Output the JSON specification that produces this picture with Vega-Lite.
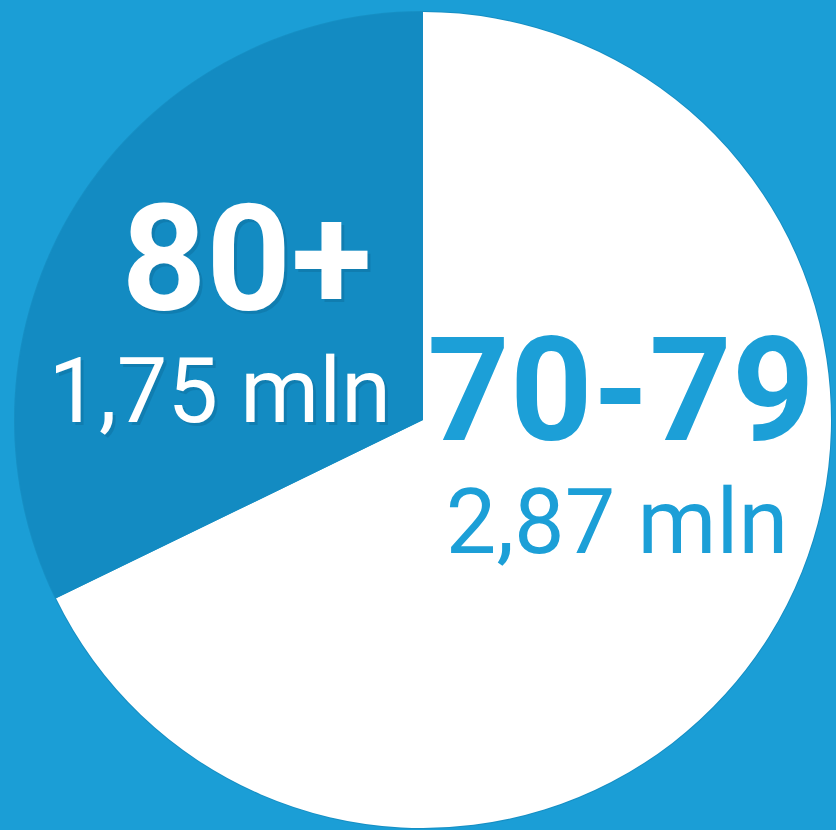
{
  "$schema": "https://vega.github.io/schema/vega-lite/v6.json",
  "width": 836,
  "height": 830,
  "autosize": {"type": "fit", "contains": "padding"},
  "padding": {"left": 10, "top": 10, "right": 0, "bottom": 0},
  "background": "#1b9ed6",
  "config": {"view": {"stroke": null}},
  "data": {
    "values": [
      {"group": "70-79", "share": 67.8, "label": "70-79", "sub": "2,87 mln"},
      {"group": "80+", "share": 32.2, "label": "80+", "sub": "1,75 mln"}
    ]
  },
  "encoding": {
    "theta": {"field": "share", "type": "quantitative", "stack": true},
    "order": {"field": "group", "type": "ordinal", "sort": "ascending"}
  },
  "layer": [
    {
      "mark": {"type": "arc", "outerRadius": 409, "color": "#0c6c9c", "opacity": 0.3}
    },
    {
      "mark": {"type": "arc", "outerRadius": 408},
      "encoding": {
        "color": {"field": "group", "type": "nominal", "scale": {"domain": ["70-79", "80+"], "range": ["#ffffff", "#138bc2"]}, "legend": null}
      }
    },
    {
      "mark": {"type": "text", "radius": 208, "dx": 3, "dy": 3, "align": "center", "baseline": "alphabetic", "font": "Roboto", "fontWeight": "bold", "fontSize": 148, "color": "#0b5f8a", "opacity": 0.3},
      "encoding": {"text": {"condition": {"test": "datum.group === '80+'", "field": "label"}, "value": ""}}
    },
    {
      "mark": {"type": "text", "radius": 208, "dx": 0, "dy": 0, "align": "center", "baseline": "alphabetic", "font": "Roboto", "fontWeight": "bold", "fontSize": 148, "color": "#ffffff"},
      "encoding": {"text": {"condition": {"test": "datum.group === '80+'", "field": "label"}, "value": ""}}
    },
    {
      "mark": {"type": "text", "radius": 208, "dx": -24, "dy": 115, "align": "center", "baseline": "alphabetic", "font": "Roboto", "fontWeight": "normal", "fontSize": 90, "color": "#0b5f8a", "opacity": 0.3},
      "encoding": {"text": {"condition": {"test": "datum.group === '80+'", "field": "sub"}, "value": ""}}
    },
    {
      "mark": {"type": "text", "radius": 208, "dx": -27, "dy": 112, "align": "center", "baseline": "alphabetic", "font": "Roboto", "fontWeight": "normal", "fontSize": 90, "color": "#ffffff"},
      "encoding": {"text": {"condition": {"test": "datum.group === '80+'", "field": "sub"}, "value": ""}}
    },
    {
      "mark": {"type": "text", "radius": 230, "dx": 3, "dy": -102, "align": "center", "baseline": "alphabetic", "font": "Roboto", "fontWeight": "bold", "fontSize": 144, "color": "#1c9fd7"},
      "encoding": {"text": {"condition": {"test": "datum.group === '70-79'", "field": "label"}, "value": ""}}
    },
    {
      "mark": {"type": "text", "radius": 230, "dx": -1, "dy": 11, "align": "center", "baseline": "alphabetic", "font": "Roboto", "fontWeight": "normal", "fontSize": 90, "color": "#1c9fd7"},
      "encoding": {"text": {"condition": {"test": "datum.group === '70-79'", "field": "sub"}, "value": ""}}
    }
  ]
}
